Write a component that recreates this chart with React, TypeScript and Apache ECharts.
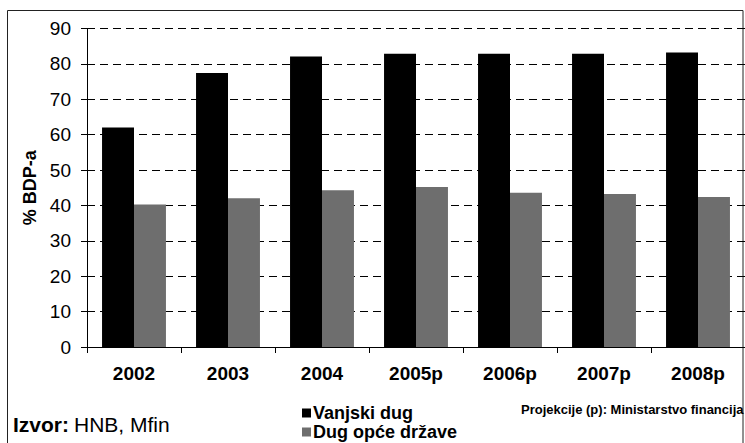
import React, { useEffect, useRef } from "react";
import * as echarts from "echarts";

const categories = ["2002", "2003", "2004", "2005p", "2006p", "2007p", "2008p"];
const vanjskiDug = [62.0, 77.4, 82.1, 82.9, 82.9, 82.9, 83.2];
const dugOpceDrzave = [40.3, 42.0, 44.3, 45.2, 43.6, 43.2, 42.4];
const yTicks = { min: 0, max: 90, interval: 10 };
const seriesNames = ["Vanjski dug", "Dug opće države"];

const FONT = "'Liberation Sans', Arial, Helvetica, sans-serif";

const legendText = { fontWeight: "bold", fontSize: 18, fontFamily: FONT, color: "#000" };

export default function App() {
  const ref = useRef<HTMLDivElement>(null);
  useEffect(() => {
    if (!ref.current) return;
    const chart = echarts.init(ref.current, null, { renderer: "svg" });
    chart.setOption({
      animation: false,
      backgroundColor: "#ffffff",
      textStyle: { fontFamily: FONT },
      grid: { left: 87, right: 0, top: 28.5, bottom: 96, containLabel: false },
      title: {
        left: 13,
        top: 414,
        padding: 0,
        text: "{b|Izvor:} {n|HNB, Mfin}",
        textStyle: {
          rich: {
            b: { fontWeight: "bold", fontSize: 21, fontFamily: FONT, color: "#000" },
            n: { fontWeight: "normal", fontSize: 21, fontFamily: FONT, color: "#000" },
          },
        },
      },
      legend: [
        {
          left: 302,
          top: 404,
          padding: 0,
          itemWidth: 9,
          itemHeight: 9,
          icon: "rect",
          data: [seriesNames[0]],
          textStyle: { ...legendText, padding: [0, 0, 0, -3] },
        },
        {
          left: 302,
          top: 423,
          padding: 0,
          itemWidth: 9,
          itemHeight: 9,
          icon: "rect",
          data: [seriesNames[1]],
          textStyle: { ...legendText, padding: [0, 0, 0, -3] },
        },
      ],
      graphic: [
        {
          type: "rect",
          shape: { x: 7.5, y: 10.5, width: 735.5, height: 460 },
          style: { fill: "none", stroke: "#222", lineWidth: 1 },
          silent: true,
          z: -10,
        },
        {
          type: "text",
          x: 521,
          y: 403,
          style: {
            text: "Projekcije (p): Ministarstvo financija",
            fontSize: 13,
            fontWeight: "bold",
            fontFamily: FONT,
            fill: "#000",
          },
        },
      ],
      xAxis: {
        type: "category",
        data: categories,
        axisLine: { lineStyle: { color: "#000", width: 1 } },
        axisTick: { show: true, alignWithLabel: false, length: 6, lineStyle: { color: "#000" } },
        axisLabel: { color: "#000", fontSize: 19, fontWeight: "bold", margin: 17, fontFamily: FONT },
      },
      yAxis: {
        type: "value",
        min: yTicks.min,
        max: yTicks.max,
        interval: yTicks.interval,
        name: "% BDP-a",
        nameLocation: "middle",
        nameGap: 44,
        nameRotate: 90,
        nameTextStyle: { color: "#000", fontSize: 18, fontWeight: "bold", fontFamily: FONT },
        axisLine: { show: true, lineStyle: { color: "#000", width: 1 } },
        axisTick: { show: true, length: 6, lineStyle: { color: "#000" } },
        axisLabel: { color: "#000", fontSize: 19, margin: 16, fontFamily: FONT },
        splitLine: { show: true, lineStyle: { color: "#000", type: [8, 5], width: 1 } },
      },
      series: [
        {
          name: seriesNames[0],
          type: "bar",
          data: vanjskiDug,
          itemStyle: { color: "#000000" },
          barGap: "0%",
          barCategoryGap: "32%",
        },
        {
          name: seriesNames[1],
          type: "bar",
          data: dugOpceDrzave,
          itemStyle: { color: "#6e6e6e" },
          barGap: "0%",
          barCategoryGap: "32%",
        },
      ],
    });
    return () => chart.dispose();
  }, []);
  return (
    <div
      ref={ref}
      style={{ position: "fixed", left: 0, top: 0, width: 745, height: 443 }}
    />
  );
}
